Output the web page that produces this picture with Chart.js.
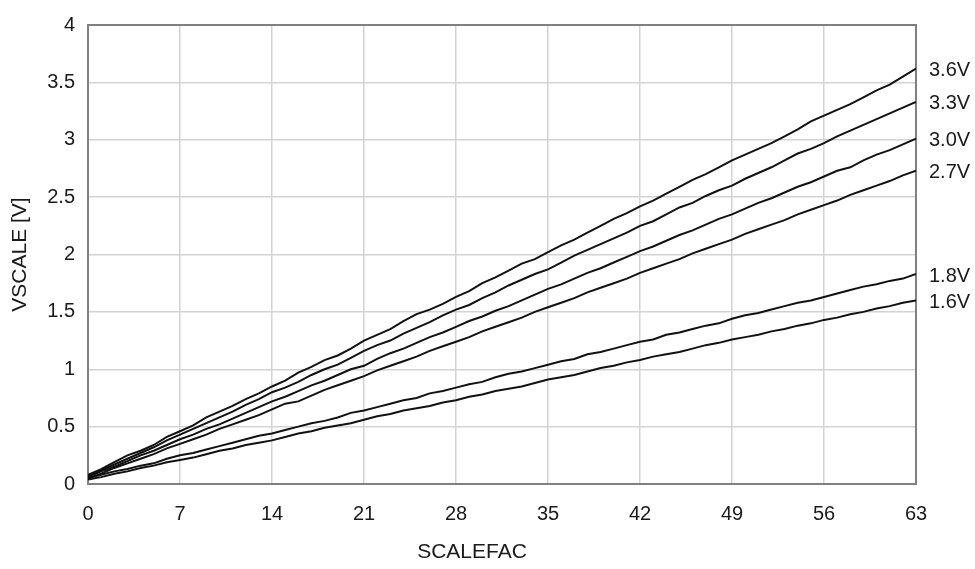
<!DOCTYPE html>
<html>
<head>
<meta charset="utf-8">
<script src="https://cdn.jsdelivr.net/npm/chart.js@4/dist/chart.umd.min.js"></script>
<style>
  html, body { margin: 0; padding: 0; background: #fff; }
  #wrap { width: 975px; height: 569px; position: relative; }
</style>
</head>
<body>
<div id="wrap"><canvas id="vscaleChart"></canvas></div>
<script>
const scalefac = [0, 1, 2, 3, 4, 5, 6, 7, 8, 9, 10, 11, 12, 13, 14, 15, 16, 17, 18, 19,
    20, 21, 22, 23, 24, 25, 26, 27, 28, 29, 30, 31, 32, 33, 34, 35, 36, 37, 38, 39,
    40, 41, 42, 43, 44, 45, 46, 47, 48, 49, 50, 51, 52, 53, 54, 55, 56, 57, 58, 59,
    60, 61, 62, 63];
const xTicks = [0, 7, 14, 21, 28, 35, 42, 49, 56, 63];
const supplyLabels = ['3.6V', '3.3V', '3.0V', '2.7V', '1.8V', '1.6V'];

const v36 = [0.08, 0.13, 0.19, 0.25, 0.29, 0.34, 0.41, 0.46, 0.51, 0.58, 0.63, 0.68, 0.74, 0.79, 0.85, 0.90, 0.97, 1.02, 1.08, 1.12,
    1.18, 1.25, 1.30, 1.35, 1.42, 1.48, 1.52, 1.57, 1.63, 1.68, 1.75, 1.80, 1.86, 1.92, 1.96, 2.02, 2.08, 2.13, 2.19, 2.25,
    2.31, 2.36, 2.42, 2.47, 2.53, 2.59, 2.65, 2.70, 2.76, 2.82, 2.87, 2.92, 2.97, 3.03, 3.09, 3.16, 3.21, 3.26, 3.31, 3.37,
    3.43, 3.48, 3.55, 3.62];
const v33 = [0.07, 0.12, 0.17, 0.22, 0.27, 0.32, 0.38, 0.43, 0.48, 0.53, 0.58, 0.63, 0.69, 0.74, 0.80, 0.84, 0.89, 0.95, 1.00, 1.04,
    1.10, 1.16, 1.21, 1.25, 1.31, 1.36, 1.41, 1.47, 1.52, 1.56, 1.62, 1.67, 1.73, 1.78, 1.83, 1.87, 1.93, 1.99, 2.04, 2.09,
    2.14, 2.19, 2.25, 2.29, 2.35, 2.41, 2.45, 2.51, 2.56, 2.60, 2.66, 2.71, 2.76, 2.82, 2.88, 2.92, 2.97, 3.03, 3.08, 3.13,
    3.18, 3.23, 3.28, 3.33];
const v30 = [0.06, 0.11, 0.15, 0.20, 0.25, 0.29, 0.34, 0.39, 0.43, 0.48, 0.52, 0.57, 0.62, 0.67, 0.72, 0.76, 0.81, 0.86, 0.90, 0.95,
    1.00, 1.03, 1.09, 1.14, 1.18, 1.23, 1.28, 1.32, 1.37, 1.42, 1.46, 1.51, 1.55, 1.60, 1.65, 1.70, 1.74, 1.79, 1.84, 1.88,
    1.93, 1.98, 2.03, 2.07, 2.12, 2.17, 2.21, 2.26, 2.31, 2.35, 2.40, 2.45, 2.49, 2.54, 2.59, 2.63, 2.68, 2.73, 2.76, 2.82,
    2.87, 2.91, 2.96, 3.01];
const v27 = [0.05, 0.09, 0.14, 0.18, 0.22, 0.26, 0.31, 0.35, 0.39, 0.43, 0.48, 0.52, 0.56, 0.60, 0.65, 0.70, 0.72, 0.77, 0.82, 0.86,
    0.90, 0.94, 0.99, 1.03, 1.07, 1.11, 1.16, 1.20, 1.24, 1.28, 1.33, 1.37, 1.41, 1.45, 1.50, 1.54, 1.58, 1.62, 1.67, 1.71,
    1.75, 1.79, 1.84, 1.88, 1.92, 1.96, 2.01, 2.05, 2.09, 2.13, 2.18, 2.22, 2.26, 2.30, 2.35, 2.39, 2.43, 2.47, 2.52, 2.56,
    2.60, 2.64, 2.69, 2.73];
const v18 = [0.05, 0.08, 0.11, 0.13, 0.16, 0.18, 0.22, 0.25, 0.27, 0.30, 0.33, 0.36, 0.39, 0.42, 0.44, 0.47, 0.50, 0.53, 0.55, 0.58,
    0.62, 0.64, 0.67, 0.70, 0.73, 0.75, 0.79, 0.81, 0.84, 0.87, 0.89, 0.93, 0.96, 0.98, 1.01, 1.04, 1.07, 1.09, 1.13, 1.15,
    1.18, 1.21, 1.24, 1.26, 1.30, 1.32, 1.35, 1.38, 1.40, 1.44, 1.47, 1.49, 1.52, 1.55, 1.58, 1.60, 1.63, 1.66, 1.69, 1.72,
    1.74, 1.77, 1.79, 1.83];
const v16 = [0.04, 0.06, 0.09, 0.11, 0.14, 0.16, 0.19, 0.21, 0.23, 0.26, 0.29, 0.31, 0.34, 0.36, 0.38, 0.41, 0.44, 0.46, 0.49, 0.51,
    0.53, 0.56, 0.59, 0.61, 0.64, 0.66, 0.68, 0.71, 0.73, 0.76, 0.78, 0.81, 0.83, 0.85, 0.88, 0.91, 0.93, 0.95, 0.98, 1.01,
    1.03, 1.06, 1.08, 1.11, 1.13, 1.15, 1.18, 1.21, 1.23, 1.26, 1.28, 1.30, 1.33, 1.35, 1.38, 1.40, 1.43, 1.45, 1.48, 1.50,
    1.53, 1.55, 1.58, 1.60];

const series = [v36, v33, v30, v27, v18, v16];
const FONT = "'Liberation Sans', Arial, sans-serif";
const textColor = '#1a1a1a';

// border box, right end labels and the x title (it sits left of centre in the original)
const endLabels = {
    id: 'endLabels',
    beforeDatasetsDraw(chart) {
        const a = chart.chartArea;
        const ctx = chart.ctx;
        ctx.save();
        ctx.strokeStyle = '#808080';
        ctx.lineWidth = 2;
        ctx.strokeRect(a.left, a.top, a.right - a.left, a.bottom - a.top);
        ctx.restore();
    },
    afterDatasetsDraw(chart) {
        const ctx = chart.ctx;
        ctx.save();
        ctx.font = '20px ' + FONT;
        ctx.fillStyle = textColor;
        ctx.textAlign = 'left';
        ctx.textBaseline = 'middle';
        chart.data.datasets.forEach((ds, i) => {
            const meta = chart.getDatasetMeta(i);
            const pt = meta.data[meta.data.length - 1];
            ctx.fillText(ds.label, chart.chartArea.right + 13, pt.y + 2);
        });
        ctx.font = '21px ' + FONT;
        ctx.textAlign = 'center';
        ctx.fillText('SCALEFAC', 472, 552);
        ctx.restore();
    }
};

new Chart(document.getElementById('vscaleChart'), {
    type: 'line',
    data: {
        datasets: series.map((vals, i) => ({
            label: supplyLabels[i],
            data: vals.map((v, j) => ({ x: scalefac[j], y: v })),
            borderColor: '#111',
            borderWidth: 2,
            pointRadius: 0,
            tension: 0,
            fill: false
        }))
    },
    options: {
        responsive: true,
        maintainAspectRatio: false,
        animation: false,
        layout: { padding: { top: 17, right: 59, left: 0, bottom: 0 } },
        plugins: {
            legend: { display: false },
            tooltip: { enabled: false }
        },
        scales: {
            x: {
                type: 'linear',
                min: 0,
                max: 63,
                afterBuildTicks: (scale) => { scale.ticks = xTicks.map(v => ({ value: v })); },
                afterFit: (scale) => { scale.height = 85; },
                grid: { color: '#d3d3d3', lineWidth: 1.5, drawTicks: false },
                border: { display: false },
                ticks: { padding: 18, color: textColor, font: { family: FONT, size: 20 }, maxRotation: 0 }
            },
            y: {
                min: 0,
                max: 4,
                afterFit: (scale) => { scale.width = 88; },
                grid: { color: '#d3d3d3', lineWidth: 1.5, drawTicks: false },
                border: { display: false },
                ticks: {
                    stepSize: 0.5, padding: 13, color: textColor, font: { family: FONT, size: 20 },
                    callback: (v) => String(v)
                },
                title: {
                    display: true,
                    text: 'VSCALE [V]',
                    color: textColor,
                    font: { family: FONT, size: 21 },
                    padding: { top: 8, bottom: 0 }
                }
            }
        }
    },
    plugins: [endLabels]
});
</script>
</body>
</html>
